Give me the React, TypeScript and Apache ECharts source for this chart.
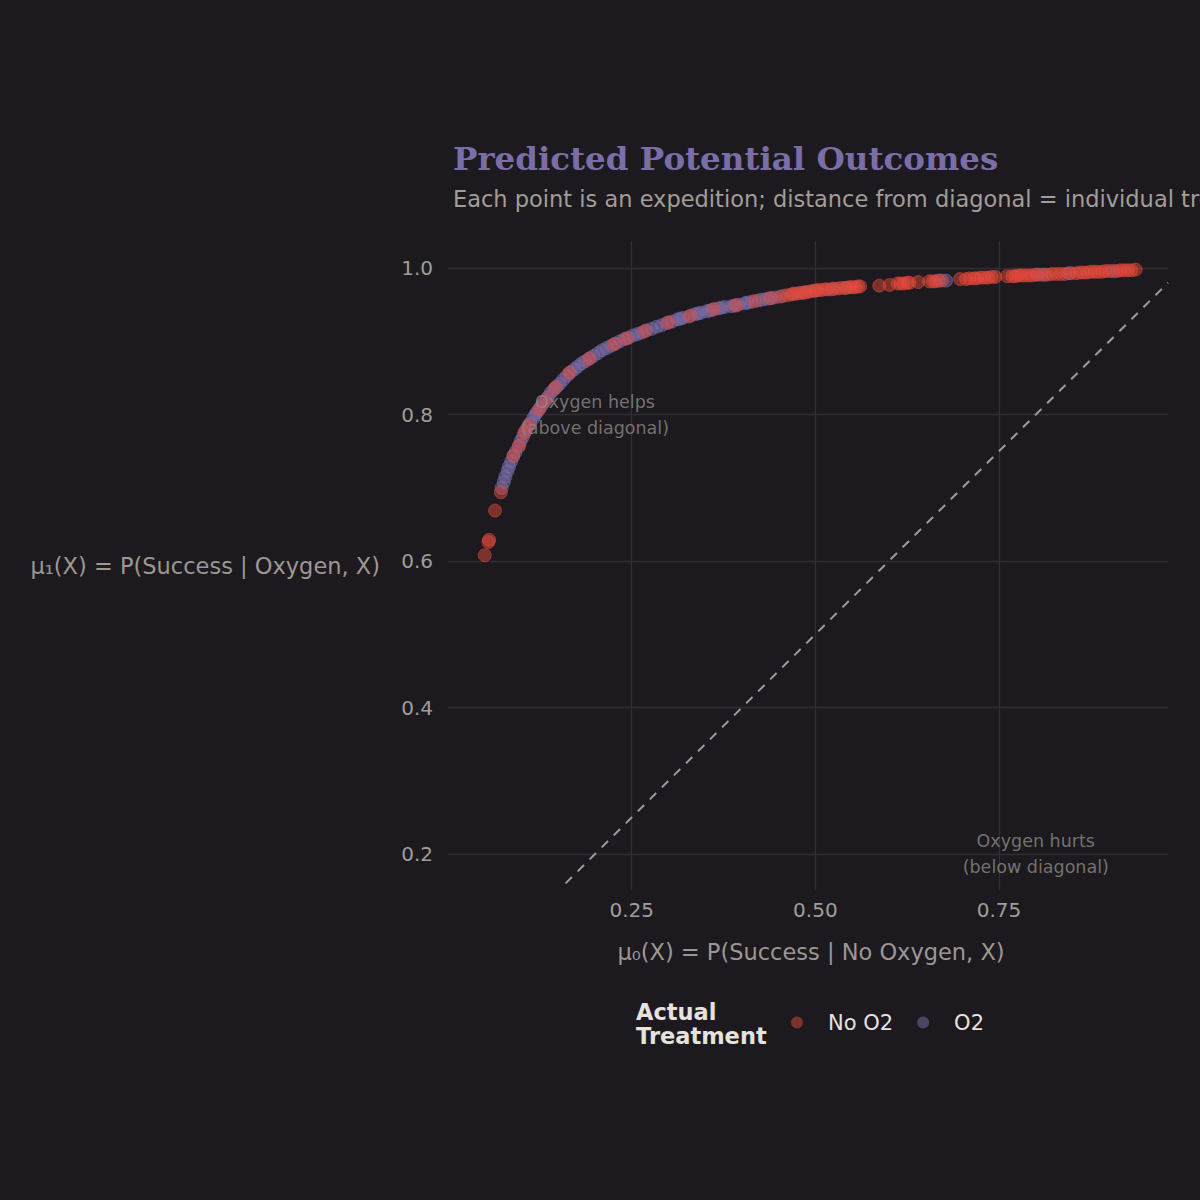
import React, { useEffect, useRef } from "react";
import * as echarts from "echarts";

// mu0 = P(Success | No Oxygen, X), mu1 = P(Success | Oxygen, X)
const noO2Points: [number, number][] = [
  [0.050, 0.608], [0.055, 0.626], [0.056, 0.629], [0.064, 0.669], [0.072, 0.694],
  [0.089, 0.744], [0.097, 0.758], [0.104, 0.775], [0.110, 0.786], [0.124, 0.807],
  [0.134, 0.821], [0.146, 0.837], [0.165, 0.857], [0.192, 0.876], [0.226, 0.896],
  [0.243, 0.904], [0.268, 0.914], [0.300, 0.926], [0.330, 0.935], [0.362, 0.944],
  [0.392, 0.949], [0.418, 0.955], [0.438, 0.959], [0.452, 0.961], [0.462, 0.963],
  [0.468, 0.964], [0.474, 0.965], [0.478, 0.966], [0.482, 0.966], [0.488, 0.967],
  [0.492, 0.968], [0.497, 0.969], [0.503, 0.970], [0.508, 0.970], [0.513, 0.971],
  [0.517, 0.971], [0.525, 0.972], [0.530, 0.972], [0.535, 0.973], [0.542, 0.973],
  [0.546, 0.974], [0.550, 0.974], [0.554, 0.974], [0.558, 0.975], [0.561, 0.975],
  [0.587, 0.976], [0.601, 0.977], [0.612, 0.979], [0.616, 0.979], [0.620, 0.979],
  [0.625, 0.980], [0.628, 0.980], [0.640, 0.981], [0.655, 0.982], [0.660, 0.982],
  [0.664, 0.982], [0.672, 0.983], [0.697, 0.985], [0.705, 0.985], [0.710, 0.986],
  [0.716, 0.986], [0.720, 0.986], [0.725, 0.987], [0.730, 0.987], [0.735, 0.987],
  [0.740, 0.988], [0.745, 0.988], [0.761, 0.989], [0.768, 0.989], [0.772, 0.989],
  [0.776, 0.990], [0.780, 0.990], [0.785, 0.990], [0.790, 0.990], [0.795, 0.990],
  [0.800, 0.991], [0.808, 0.991], [0.816, 0.991], [0.822, 0.992], [0.828, 0.992],
  [0.834, 0.992], [0.840, 0.992], [0.848, 0.993], [0.855, 0.993], [0.860, 0.994],
  [0.865, 0.994], [0.870, 0.994], [0.875, 0.995], [0.880, 0.995], [0.885, 0.995],
  [0.890, 0.995], [0.895, 0.996], [0.900, 0.996], [0.910, 0.996], [0.915, 0.997],
  [0.920, 0.997], [0.925, 0.997], [0.930, 0.997], [0.936, 0.998],
];

const o2Points: [number, number][] = [
  [0.073, 0.700], [0.076, 0.708], [0.078, 0.715], [0.081, 0.723], [0.083, 0.729],
  [0.086, 0.736], [0.089, 0.743], [0.092, 0.749], [0.096, 0.756], [0.099, 0.764],
  [0.102, 0.770], [0.105, 0.777], [0.108, 0.782], [0.112, 0.788], [0.116, 0.795],
  [0.119, 0.800], [0.121, 0.803], [0.125, 0.809], [0.128, 0.813], [0.132, 0.818],
  [0.136, 0.824], [0.140, 0.830], [0.144, 0.834], [0.148, 0.838], [0.152, 0.842],
  [0.157, 0.848], [0.162, 0.853], [0.167, 0.858], [0.172, 0.862], [0.177, 0.866],
  [0.182, 0.870], [0.187, 0.873], [0.193, 0.877], [0.198, 0.880], [0.204, 0.884],
  [0.210, 0.888], [0.216, 0.891], [0.222, 0.894], [0.228, 0.897], [0.234, 0.900],
  [0.240, 0.903], [0.246, 0.905], [0.252, 0.908], [0.258, 0.910], [0.264, 0.912],
  [0.270, 0.915], [0.277, 0.917], [0.284, 0.920], [0.291, 0.922], [0.298, 0.925],
  [0.305, 0.927], [0.312, 0.930], [0.320, 0.932], [0.328, 0.934], [0.336, 0.937],
  [0.344, 0.939], [0.352, 0.941], [0.360, 0.943], [0.368, 0.945], [0.377, 0.947],
  [0.386, 0.948], [0.395, 0.950], [0.404, 0.952], [0.413, 0.954], [0.423, 0.956],
  [0.434, 0.958], [0.445, 0.960], [0.456, 0.962], [0.470, 0.965], [0.485, 0.967],
  [0.500, 0.969], [0.522, 0.971], [0.540, 0.973], [0.668, 0.983], [0.678, 0.983],
  [0.803, 0.991], [0.812, 0.991], [0.845, 0.993], [0.905, 0.996],
  [0.316, 0.931], [0.340, 0.938], [0.356, 0.942], [0.372, 0.946], [0.390, 0.949],
  [0.408, 0.953], [0.428, 0.957], [0.440, 0.959],
];

const diagonal: [number, number][] = [[0.16, 0.16], [0.98, 0.98]];

const xTicks = [0.25, 0.5, 0.75];
const yTicks = [0.2, 0.4, 0.6, 0.8, 1.0];
const xRange = [0, 0.98];
const yRange = [0.151, 1.037];

const annotations = [
  { pos: [0.2, 0.8], text: "Oxygen helps\n(above diagonal)" },
  { pos: [0.8, 0.2], text: "Oxygen hurts\n(below diagonal)" },
];

const seriesNames = ["No O2", "O2"];
const titleText = "Predicted Potential Outcomes";
const subtitleText =
  "Each point is an expedition; distance from diagonal = individual treatment effect";
const xTitle = "μ₀(X) = P(Success | No Oxygen, X)";
const yTitle = "μ₁(X) = P(Success | Oxygen, X)";
const legendTitle = "Actual\nTreatment";

const BG = "#1c1a1f";
const RED = "rgba(231,76,60,0.6)";
const PURPLE = "rgba(126,112,173,0.62)";
const GRID = "#302d34";
const FONT = "DejaVu Sans";

export default function App() {
  const ref = useRef<HTMLDivElement>(null);
  useEffect(() => {
    if (!ref.current) return;
    const chart = echarts.init(ref.current, null, { renderer: "svg" });
    const option: any = {
      animation: false,
      backgroundColor: BG,
      textStyle: { fontFamily: FONT },
      grid: { left: 448, right: 32, top: 241, bottom: 310, containLabel: false },
      xAxis: {
        type: "value",
        min: xRange[0],
        max: xRange[1],
        name: xTitle,
        nameLocation: "middle",
        nameGap: 50,
        nameTextStyle: {
          color: "#9d9792",
          fontSize: 22.5,
          fontFamily: FONT,
          padding: [0, 0, 0, 6],
        },
        axisLine: { show: false },
        axisTick: { show: false, customValues: xTicks },
        axisLabel: {
          customValues: xTicks,
          color: "#a39d98",
          fontSize: 20,
          margin: 10,
          fontFamily: FONT,
          formatter: (v: number) => v.toFixed(2),
        },
        splitLine: { show: true, lineStyle: { color: GRID, width: 1.3 } },
      },
      yAxis: {
        type: "value",
        min: yRange[0],
        max: yRange[1],
        name: yTitle,
        nameLocation: "middle",
        nameRotate: 0,
        nameGap: 68,
        nameTextStyle: {
          color: "#9d9792",
          fontSize: 22.5,
          fontFamily: FONT,
          padding: [0, 0, 5, 0],
        },
        axisLine: { show: false },
        axisTick: { show: false, customValues: yTicks },
        axisLabel: {
          customValues: yTicks,
          color: "#a39d98",
          fontSize: 20,
          margin: 15,
          fontFamily: FONT,
          formatter: (v: number) => v.toFixed(1),
        },
        splitLine: { show: true, lineStyle: { color: GRID, width: 1.3 } },
      },
      legend: {
        data: [
          { name: seriesNames[0], itemStyle: { color: RED, borderWidth: 0 } },
          { name: seriesNames[1], itemStyle: { color: PURPLE, borderWidth: 0 } },
        ],
        icon: "circle",
        orient: "horizontal",
        left: 786,
        top: 1007,
        itemWidth: 52,
        itemHeight: 12,
        itemGap: 24,
        textStyle: { color: "#e6e2de", fontSize: 21, fontFamily: FONT },
      },
      graphic: [
        {
          type: "text",
          x: 453,
          y: 158,
          style: {
            text: titleText,
            fill: "#7b6ea6",
            font: "bold 32.5px 'DejaVu Serif'",
            verticalAlign: "middle",
            align: "left",
          },
        },
        {
          type: "text",
          x: 453,
          y: 199,
          style: {
            text: subtitleText,
            fill: "#a39d98",
            font: "22.5px 'DejaVu Sans'",
            verticalAlign: "middle",
            align: "left",
          },
        },
        {
          type: "text",
          x: 636,
          y: 1024,
          style: {
            text: legendTitle,
            fill: "#e6e2de",
            font: "bold 22.5px 'DejaVu Sans'",
            lineHeight: 24,
            verticalAlign: "middle",
            align: "left",
          },
        },
      ],
      series: [
        {
          name: "diagonal",
          type: "line",
          data: diagonal,
          showSymbol: false,
          silent: true,
          z: 1,
          lineStyle: { color: "#a09b96", width: 2, type: [9, 8] },
        },
        {
          name: seriesNames[1],
          type: "scatter",
          data: o2Points,
          symbolSize: 13,
          z: 2,
          itemStyle: { color: PURPLE, borderColor: PURPLE, borderWidth: 1 },
        },
        {
          name: seriesNames[0],
          type: "scatter",
          data: noO2Points,
          symbolSize: 13,
          z: 3,
          itemStyle: { color: RED, borderColor: RED, borderWidth: 1 },
        },
        {
          name: "annotations",
          type: "scatter",
          silent: true,
          z: 4,
          symbolSize: 1,
          itemStyle: { color: "transparent" },
          data: annotations.map((a) => ({ value: a.pos, text: a.text })),
          label: {
            show: true,
            position: "inside",
            formatter: (p: any) => p.data.text,
            color: "#8e8984",
            fontSize: 17.5,
            lineHeight: 26,
            align: "center",
            verticalAlign: "middle",
            fontFamily: FONT,
          },
        },
      ],
    };
    chart.setOption(option);
    return () => chart.dispose();
  }, []);
  return (
    <div
      ref={ref}
      style={{ position: "fixed", left: 0, top: 0, width: 1200, height: 1200 }}
    />
  );
}
